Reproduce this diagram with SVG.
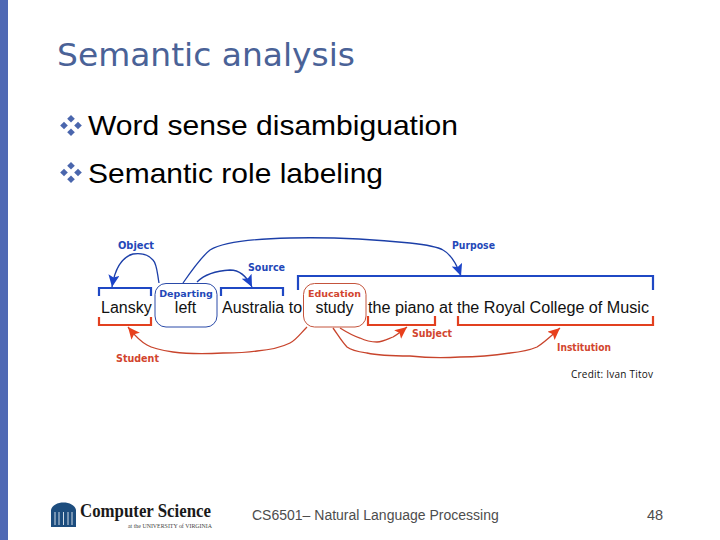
<svg xmlns="http://www.w3.org/2000/svg" width="720" height="540" viewBox="0 0 720 540">
<style>
.s{font-family:"Liberation Sans",Arial,sans-serif}
.w{font-family:"Liberation Sans",Arial,sans-serif;font-size:16px;fill:#111}
.b{font-family:"Liberation Sans",Arial,sans-serif;font-size:28.5px;fill:#000}
.l{font-family:"DejaVu Sans",sans-serif;font-size:10px;font-weight:700}
.blue{fill:#2347b8}.red{fill:#d2452e}
.bb{fill:none;stroke:#1f48c4;stroke-width:2.2}
.rb{fill:none;stroke:#e2401f;stroke-width:2.2}
.bc{fill:none;stroke:#1c3fa8;stroke-width:1.3}
.rc{fill:none;stroke:#c8442c;stroke-width:1.3}
.d{fill:#4a66ad}
</style>
<defs>
<marker id="ab" markerUnits="userSpaceOnUse" markerWidth="14" markerHeight="12" refX="12" refY="5.500" orient="auto"><path d="M0 0L12 5.500L0 11L2.500 5.500Z" fill="#1c44c8"/></marker>
<marker id="ar" markerUnits="userSpaceOnUse" markerWidth="14" markerHeight="12" refX="12" refY="5.500" orient="auto"><path d="M0 0L12 5.500L0 11L2.500 5.500Z" fill="#e8401c"/></marker>
<g id="dia"><path class="d" d="M0-3.800L3.800 0L0 3.800L-3.800 0Z"/></g>
<g id="bul"><use href="#dia" x="0" y="-6.800"/><use href="#dia" x="-7" y="0"/><use href="#dia" x="7" y="0"/><use href="#dia" x="0" y="6.800"/></g>
</defs>
<rect width="720" height="540" fill="#fff"/>
<rect width="8" height="540" fill="#4f69b4"/>
<text id="title" x="57" y="66" style="font-family:'DejaVu Sans',sans-serif;font-size:31.500px;fill:#4a6297" textLength="298" lengthAdjust="spacingAndGlyphs">Semantic analysis</text>
<g id="bullet1"><use href="#bul" x="71" y="125.500"/><text class="b" x="88" y="135" textLength="370" lengthAdjust="spacingAndGlyphs">Word sense disambiguation</text></g>
<g id="bullet2"><use href="#bul" x="71" y="172.500"/><text class="b" x="88" y="183" textLength="295" lengthAdjust="spacingAndGlyphs">Semantic role labeling</text></g>
<g id="connectors">
<path class="bc" d="M159 283C157 272 157 264 153 260C148 254 140 253 133 254C122 257 115 268 112 287" marker-end="url(#ab)"/>
<path class="bc" d="M183 283C192 270 201 257 210 250C220 244 245 239 290 238C330 237 380 240 410 243C428 245 438 247 443 250C452 255 457 265 461 276" marker-end="url(#ab)"/>
<path class="bc" d="M197 282C203 276 212 271 230 270C240 270 247 277 252 287" marker-end="url(#ab)"/>
<path class="rc" d="M307 327C300 334 296 340 290 343C280 348 268 350 257 351C245 353 235 353 223 353C205 354 188 354 173 352C160 350 152 348 147 345C138 340 133 333 128 327" marker-end="url(#ar)"/>
<path class="rc" d="M340 328C348 333 353 336 360 338C366 341 372 342 377 342C383 342 388 339 393 337C398 334 402 331 407 327" marker-end="url(#ar)"/>
<path class="rc" d="M333 328C338 335 342 342 347 347C352 351 360 352 367 353C380 356 395 356 410 356C428 358 445 358 460 357C480 357 497 355 510 353C520 352 530 350 537 347C545 342 552 335 560 328" marker-end="url(#ar)"/>
<path class="bb" d="M99 296V288H151V296"/>
<path class="rb" d="M99 317V325H151V317"/>
<path class="bb" d="M221 296V288H283V296"/>
<path class="bb" d="M298 290V276H653V290"/>
<path class="rb" d="M368 316V325H435V316"/>
<path class="rb" d="M458 316V325H653V316"/>
</g>
<g id="lansky"><text class="w" x="101" y="313">Lansky</text></g>
<g id="departing"><rect x="155" y="283.500" width="62" height="43.500" rx="11" fill="#fff" stroke="#2a4aa8" stroke-width="1"/><text class="l blue" x="186" y="297" text-anchor="middle" style="font-size:9.500px">Departing</text><text class="w" x="185.500" y="313" text-anchor="middle">left</text></g>
<g id="australia"><text class="w" x="222" y="313">Australia to</text></g>
<g id="education"><rect x="303.500" y="283.500" width="62.500" height="43.500" rx="11" fill="#fff" stroke="#c4543c" stroke-width="1"/><text class="l red" x="334.500" y="297" text-anchor="middle" style="font-size:9.500px">Education</text><text class="w" x="334.500" y="313" text-anchor="middle">study</text></g>
<g id="rest"><text class="w" x="368" y="313" textLength="281" lengthAdjust="spacingAndGlyphs">the piano at the Royal College of Music</text></g>
<g id="labels">
<text class="l blue" x="118" y="249" textLength="36" lengthAdjust="spacingAndGlyphs">Object</text>
<text class="l blue" x="248" y="271" textLength="37" lengthAdjust="spacingAndGlyphs">Source</text>
<text class="l blue" x="452" y="249" textLength="43" lengthAdjust="spacingAndGlyphs">Purpose</text>
<text class="l red" x="116" y="362" textLength="43" lengthAdjust="spacingAndGlyphs">Student</text>
<text class="l red" x="412" y="337" textLength="40" lengthAdjust="spacingAndGlyphs">Subject</text>
<text class="l red" x="557" y="351" textLength="54" lengthAdjust="spacingAndGlyphs">Institution</text>
</g>
<text id="credit" x="571" y="378" style="font-family:'Open Sans',sans-serif;font-size:10px;fill:#111" textLength="82">Credit: Ivan Titov</text>
<g id="logo">
<path d="M51 510C53 500 74 500 76 510Z" fill="#1d4d7e"/>
<rect x="51" y="510" width="25" height="17" fill="#1d4d7e"/>
<path d="M55 512V525M59 512V525M63.500 512V525M68 512V525M72 512V525" stroke="#cfdbe6" stroke-width="1"/>
<text x="80" y="517" style="font-family:'Liberation Serif',serif;font-size:18px;font-weight:700;fill:#1a1a1a" textLength="131" lengthAdjust="spacingAndGlyphs">Computer Science</text>
<text x="128" y="527.500" style="font-family:'Liberation Serif',serif;font-size:5.500px;fill:#444" textLength="84" lengthAdjust="spacingAndGlyphs">at the UNIVERSITY of VIRGINIA</text>
</g>
<text id="footer" x="252" y="520" class="s" style="font-size:14px;fill:#4d4d4d">CS6501– Natural Language Processing</text>
<text id="page" x="647" y="520" class="s" style="font-size:14.500px;fill:#4d4d4d">48</text>
</svg>
